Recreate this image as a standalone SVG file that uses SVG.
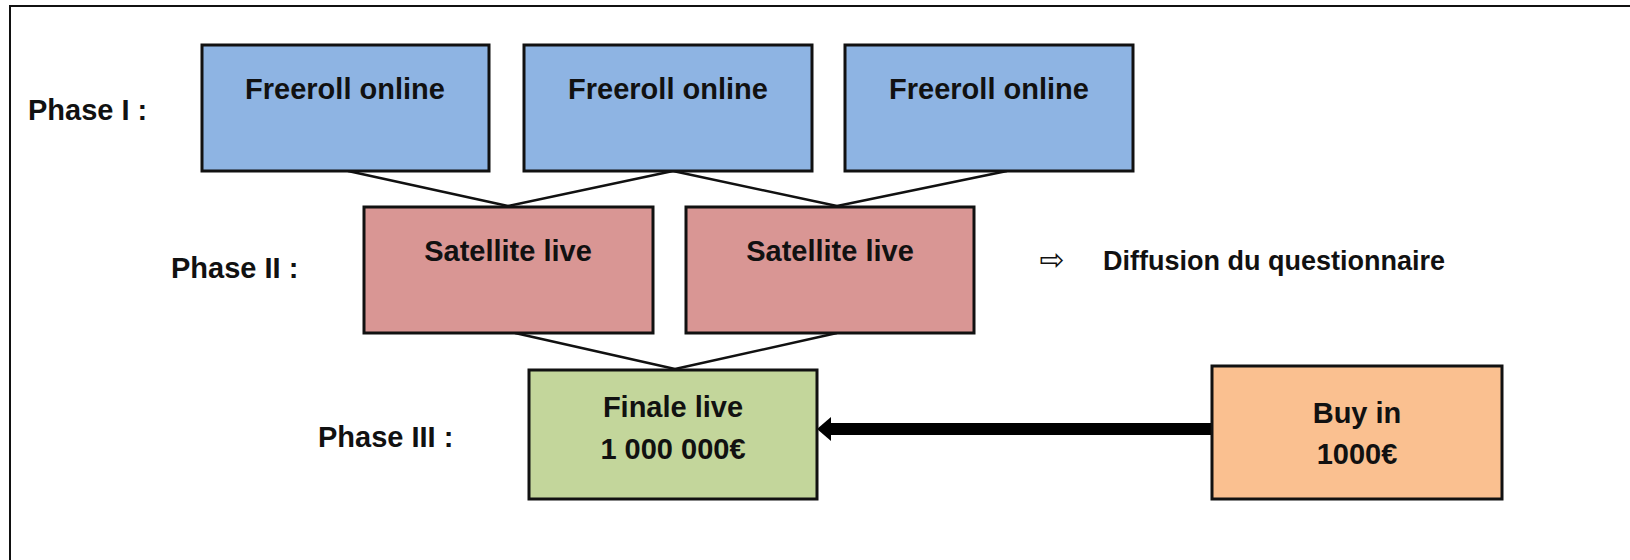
<svg xmlns="http://www.w3.org/2000/svg" width="1630" height="560" viewBox="0 0 1630 560">
<style>
.box{stroke:#111;stroke-width:3}
.blue{fill:#8EB4E3}
.pink{fill:#D99694}
.green{fill:#C3D69B}
.orange{fill:#FAC090}
.t{font-family:"Liberation Sans",Arial,sans-serif;font-weight:bold;font-size:29px;fill:#111;text-anchor:middle}
.lbl{font-family:"Liberation Sans",Arial,sans-serif;font-weight:bold;font-size:29px;fill:#111}
.conn{stroke:#111;stroke-width:2.5;fill:none}
</style>
<defs>
<marker id="head" viewBox="0 0 14 24" refX="0" refY="12" markerWidth="14" markerHeight="24" markerUnits="userSpaceOnUse" orient="auto">
<path d="M0,0 L14,12 L0,24 z" fill="#000"/>
</marker>
</defs>
<rect width="1630" height="560" fill="#fff"/>
<path d="M10,560 L10,6 L1630,6" fill="none" stroke="#111" stroke-width="2"/>

<g id="labels">
<text class="lbl" x="28" y="120">Phase I :</text>
<text class="lbl" x="171" y="278">Phase II :</text>
<text class="lbl" x="318" y="447">Phase III :</text>
</g>

<g id="connectors">
<line class="conn" x1="348" y1="171" x2="508" y2="206"/>
<line class="conn" x1="673" y1="171" x2="508" y2="206"/>
<line class="conn" x1="673" y1="171" x2="837" y2="206"/>
<line class="conn" x1="1007" y1="171" x2="837" y2="206"/>
<line class="conn" x1="515" y1="333" x2="675" y2="369"/>
<line class="conn" x1="837" y1="333" x2="675" y2="369"/>
<line x1="1212" y1="429" x2="831" y2="429" stroke="#000" stroke-width="12" marker-end="url(#head)"/>
</g>

<g id="freeroll1">
<rect class="box blue" x="202" y="45" width="287" height="126"/>
<text class="t" x="345" y="99">Freeroll online</text>
</g>
<g id="freeroll2">
<rect class="box blue" x="524" y="45" width="288" height="126"/>
<text class="t" x="668" y="99">Freeroll online</text>
</g>
<g id="freeroll3">
<rect class="box blue" x="845" y="45" width="288" height="126"/>
<text class="t" x="989" y="99">Freeroll online</text>
</g>

<g id="satellite1">
<rect class="box pink" x="364" y="207" width="289" height="126"/>
<text class="t" x="508" y="261">Satellite live</text>
</g>
<g id="satellite2">
<rect class="box pink" x="686" y="207" width="288" height="126"/>
<text class="t" x="830" y="261">Satellite live</text>
</g>

<g id="diffusion">
<text x="1052" y="270" font-family="DejaVu Sans,sans-serif" font-size="30" fill="#111" text-anchor="middle">⇨</text>
<text x="1103" y="270" font-family="Liberation Sans,Arial,sans-serif" font-weight="bold" font-size="27" fill="#111">Diffusion du questionnaire</text>
</g>

<g id="finale">
<rect class="box green" x="529" y="370" width="288" height="129"/>
<text class="t" x="673" y="417">Finale live</text>
<text class="t" x="673" y="459">1 000 000€</text>
</g>

<g id="buyin">
<rect class="box orange" x="1212" y="366" width="290" height="133"/>
<text class="t" x="1357" y="423">Buy in</text>
<text class="t" x="1357" y="464">1000€</text>
</g>
</svg>
